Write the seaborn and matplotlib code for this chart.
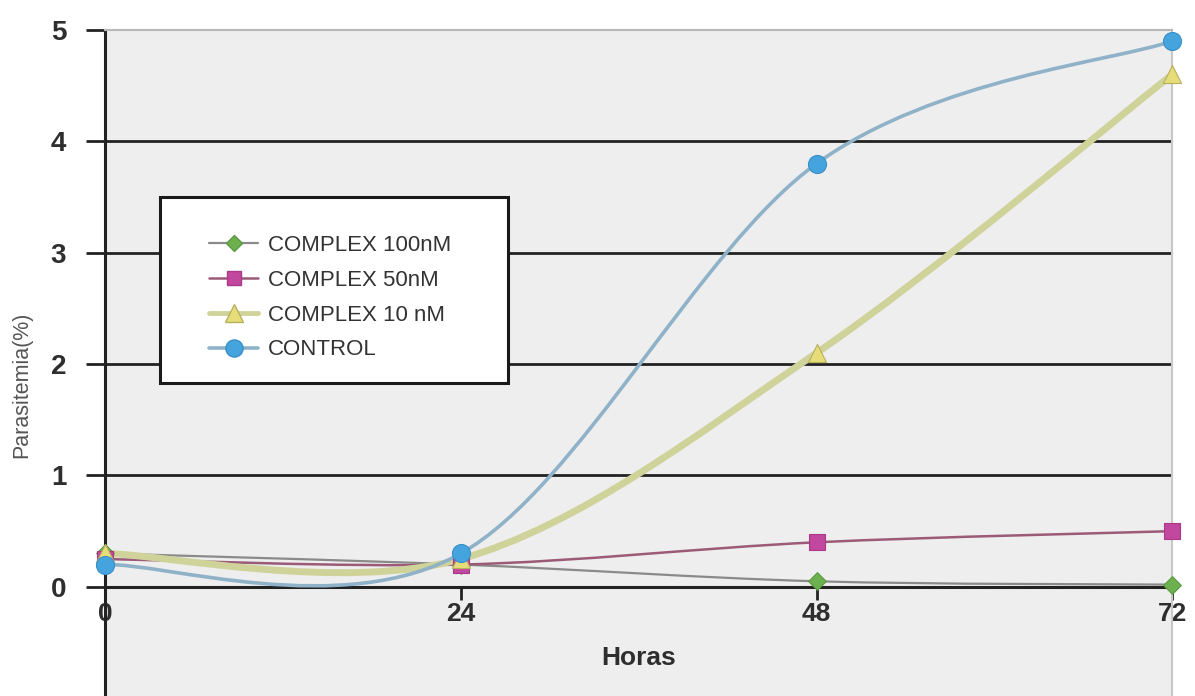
import numpy as np
import pandas as pd
import matplotlib
matplotlib.use("Agg")
import matplotlib.pyplot as plt
import seaborn as sns
from matplotlib.path import Path
from matplotlib.patches import PathPatch, Rectangle
from matplotlib.lines import Line2D

# Parasitemia (%) over time for each treatment
horas = [0, 24, 48, 72]
complex_100 = [0.3, 0.2, 0.05, 0.02]
complex_50 = [0.25, 0.2, 0.4, 0.5]
complex_10 = [0.3, 0.25, 2.1, 4.6]
control = [0.2, 0.3, 3.8, 4.9]

series_names = ["COMPLEX 100nM", "COMPLEX 50nM", "COMPLEX 10 nM", "CONTROL"]
series_values = [complex_100, complex_50, complex_10, control]

styles = {
    "COMPLEX 100nM": dict(line="#8a8a8a", lw=1.6, marker="D", ms=9, face="#6db04f", edge="#5a9a40"),
    "COMPLEX 50nM": dict(line="#9a5a78", lw=1.8, marker="s", ms=11, face="#c2479f", edge="#a83a88"),
    "COMPLEX 10 nM": dict(line="#cfd39a", lw=5.0, marker="^", ms=13, face="#e6dc78", edge="#b8b060"),
    "CONTROL": dict(line="#8fb2c9", lw=2.6, marker="o", ms=13, face="#45a3de", edge="#3a90c8"),
}

sns.set_theme(style="white")
plt.rcParams["font.family"] = ["Liberation Sans", "DejaVu Sans"]

fig = plt.figure(figsize=(11.95, 6.96), dpi=100)
fig.patch.set_facecolor("white")
ax = fig.add_axes([0.088, 0.0, 0.893, 0.957])
ax.set_facecolor("#eeeeee")

ax.set_xlim(0, 72)
ax.set_ylim(-0.98, 5.0)


def smooth_path(xs, ys):
    """Cubic Bezier path through the points (spreadsheet-style smoothed line)."""
    pts = np.column_stack([xs, ys]).astype(float)
    n = len(pts)
    verts = [pts[0]]
    codes = [Path.MOVETO]
    for i in range(n - 1):
        p_prev = pts[i - 1] if i > 0 else pts[i]
        p_next2 = pts[i + 2] if i + 2 < n else pts[i + 1]
        c1 = pts[i] + (pts[i + 1] - p_prev) / 6.0
        c2 = pts[i + 1] - (p_next2 - pts[i]) / 6.0
        verts += [c1, c2, pts[i + 1]]
        codes += [Path.CURVE4] * 3
    return Path(verts, codes)


# gridlines
for yv in [1, 2, 3, 4]:
    ax.axhline(yv, color="#222222", lw=2.0, zorder=1)

# smoothed series lines
for name, vals in zip(series_names, series_values):
    st = styles[name]
    patch = PathPatch(smooth_path(horas, vals), facecolor="none",
                      edgecolor=st["line"], lw=st["lw"], zorder=3,
                      capstyle="round", joinstyle="round")
    ax.add_patch(patch)

# markers
df = pd.DataFrame({
    "Horas": np.tile(horas, len(series_names)),
    "Parasitemia": np.concatenate(series_values),
    "Serie": np.repeat(series_names, len(horas)),
})
for name in series_names:
    st = styles[name]
    sub = df[df["Serie"] == name]
    sns.scatterplot(data=sub, x="Horas", y="Parasitemia", ax=ax,
                    marker=st["marker"], s=st["ms"] ** 2, color=st["face"],
                    edgecolor=st["edge"], linewidth=0.8, zorder=4,
                    clip_on=False, legend=False)

# axes styling
ax.spines["bottom"].set_position(("data", 0))
ax.spines["bottom"].set_color("#222222")
ax.spines["bottom"].set_linewidth(2.2)
ax.spines["bottom"].set_zorder(2)
ax.spines["left"].set_color("#222222")
ax.spines["left"].set_linewidth(2.2)
ax.spines["top"].set_color("#b8b8b8")
ax.spines["top"].set_linewidth(1.5)
ax.spines["right"].set_color("#c8c8c8")
ax.spines["right"].set_linewidth(1.5)

ax.set_yticks([0, 1, 2, 3, 4, 5])
ax.set_yticklabels(["0", "1", "2", "3", "4", "5"])
ax.set_xticks(horas)
ax.set_xticklabels([str(h) for h in horas])
ax.tick_params(axis="y", direction="out", length=14, width=2.0, color="#222222",
               pad=14, labelsize=20, labelcolor="#2e2e2e", left=True)
ax.tick_params(axis="x", direction="out", length=9, width=2.0, color="#222222",
               pad=2, labelsize=19, labelcolor="#2e2e2e", bottom=True)
for lab in ax.get_yticklabels() + ax.get_xticklabels():
    lab.set_fontweight("bold")

ax.set_xlabel("Horas", fontsize=19, fontweight="bold", color="#2e2e2e")
ax.xaxis.set_label_coords(0.5, 0.075)
ax.set_ylabel("")
fig.text(22 / 1195, 1 - 385 / 696, "Parasitemia(%)", rotation=90, ha="center",
         va="center", fontsize=15.5, color="#555555")

# legend box
box = Rectangle((160 / 1195, 1 - 383 / 696), 348 / 1195, 186 / 696,
                transform=fig.transFigure, facecolor="white", edgecolor="#1a1a1a",
                lw=2.2, zorder=5)
fig.patches.append(box)
handles = []
for name in series_names:
    st = styles[name]
    handles.append(Line2D([0], [0], color=st["line"], lw=min(st["lw"], 3.5),
                          marker=st["marker"], markersize=st["ms"] * 0.95,
                          markerfacecolor=st["face"], markeredgecolor=st["edge"]))
leg = fig.legend(handles, series_names, loc="upper left",
                 bbox_to_anchor=(198 / 1195, 1 - 224 / 696), frameon=False,
                 fontsize=16, handlelength=2.2, handletextpad=0.45,
                 labelspacing=0.62, borderpad=0)
leg.set_zorder(6)
for t in leg.get_texts():
    t.set_color("#333333")

fig.savefig("out.png", dpi=100)
